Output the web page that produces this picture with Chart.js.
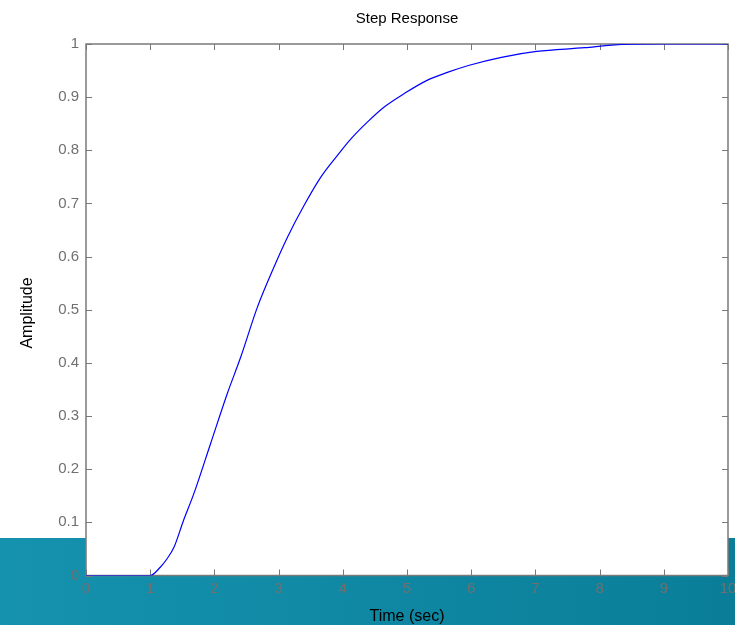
<!DOCTYPE html>
<html>
<head>
<meta charset="utf-8">
<script src="https://cdn.jsdelivr.net/npm/chart.js@4/dist/chart.umd.min.js"></script>
<style>
 html,body{margin:0;padding:0;background:#fff}
 canvas{display:block}
</style>
</head>
<body>
<canvas id="graf" width="735" height="625"></canvas>
<script>
// values
const timeSec=[0,1.0,1.16,1.26,1.37,1.52,1.68,1.94,2.2,2.41,2.67,2.93,3.14,3.4,3.66,3.92,4.13,4.39,4.65,4.96,5.32,5.64,5.97,6.47,7.02,7.77,8.19,8.97,10];
const amplitude=[0,0,0.016,0.031,0.053,0.104,0.154,0.248,0.342,0.411,0.505,0.581,0.637,0.697,0.750,0.791,0.822,0.854,0.882,0.907,0.932,0.947,0.960,0.975,0.986,0.993,0.998,1.0,1.0];
const titleText='Step Response', xTitle='Time (sec)', yTitle='Amplitude';
const FONT='"Liberation Sans", Arial, Helvetica, sans-serif';

const decor={
 id:'decor',
 beforeDraw(c){
  const x=c.ctx, a=c.chartArea;
  x.save();
  const g=x.createLinearGradient(0,0,735,0);
  g.addColorStop(0,'#1592ae');g.addColorStop(1,'#0a7e98');
  x.fillStyle=g;x.fillRect(0,538,735,87);
  x.fillStyle='#fff';x.fillRect(a.left,a.top,a.right-a.left,a.bottom-a.top);
  x.restore();
 },
 beforeDatasetsDraw(c){
  const x=c.ctx, a=c.chartArea, sx=c.scales.x, sy=c.scales.y;
  x.save();
  x.strokeStyle='#7a7a7a';x.lineWidth=1;
  x.beginPath();
  sx.ticks.forEach(t=>{const p=Math.round(sx.getPixelForValue(t.value))+0.5;
   x.moveTo(p,a.bottom);x.lineTo(p,a.bottom-6);x.moveTo(p,a.top);x.lineTo(p,a.top+6);});
  sy.ticks.forEach(t=>{const p=Math.round(sy.getPixelForValue(t.value))+0.5;
   x.moveTo(a.left,p);x.lineTo(a.left+6,p);x.moveTo(a.right,p);x.lineTo(a.right-6,p);});
  x.stroke();
  x.lineWidth=1.5;
  x.strokeRect(a.left,a.top,a.right-a.left,a.bottom-a.top);
  x.restore();
 },
 afterDraw(c){
  const x=c.ctx, a=c.chartArea;
  x.save();
  x.fillStyle='#000';x.textAlign='center';x.textBaseline='middle';
  x.font='15px '+FONT;x.fillText(titleText,(a.left+a.right)/2,19);
  x.font='16px '+FONT;x.fillText(xTitle,(a.left+a.right)/2,617);
  x.translate(28,313);x.rotate(-Math.PI/2);x.fillText(yTitle,0,0);
  x.restore();
 }
};

new Chart(graf,{
 type:'line',
 data:{datasets:[{data:timeSec.map((t,i)=>({x:t,y:amplitude[i]})),borderColor:'#0000ff',borderWidth:1.2,pointRadius:0,cubicInterpolationMode:'monotone',fill:false}]},
 options:{
  responsive:false,animation:false,
  layout:{padding:{top:44,right:7,bottom:0,left:0}},
  plugins:{legend:{display:false},tooltip:{enabled:false}},
  scales:{
   x:{type:'linear',min:0,max:10,
    ticks:{stepSize:1,padding:4,color:'#707070',font:{family:FONT,size:15},maxRotation:0},
    grid:{display:false,tickLength:0},border:{display:false},
    afterFit:s=>{s.height=49.5;s.paddingLeft=0;s.paddingRight=0}},
   y:{min:0,max:1,
    ticks:{stepSize:0.1,padding:7,color:'#707070',font:{family:FONT,size:15},callback:v=>String(+v.toFixed(1))},
    grid:{display:false,tickLength:0},border:{display:false},
    afterFit:s=>{s.width=86}}
  }
 },
 plugins:[decor]
});
</script>
</body>
</html>
